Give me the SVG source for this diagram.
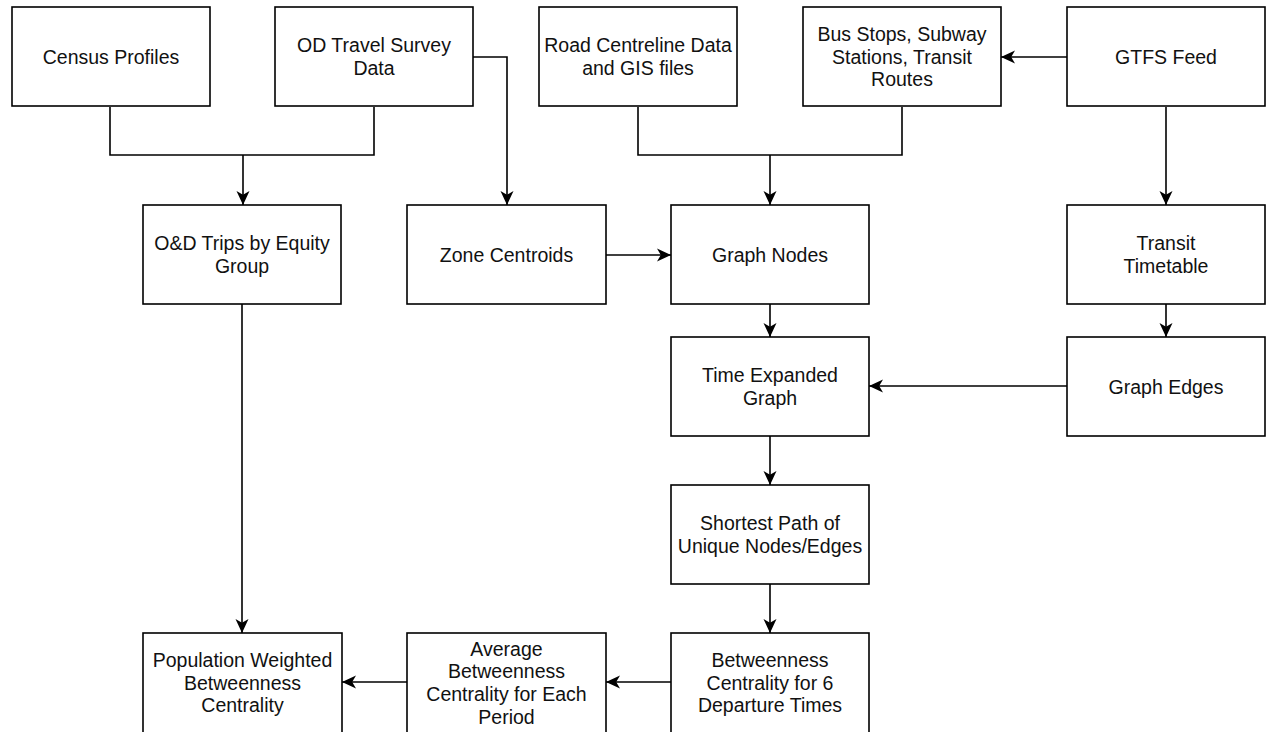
<svg xmlns="http://www.w3.org/2000/svg" width="1269" height="732" viewBox="0 0 1269 732">
<style>
.box{fill:#fff;stroke:#000;stroke-width:1.6}
.lbl{font-family:"Liberation Sans",Arial,Helvetica,sans-serif;font-size:19.5px;fill:#111;text-anchor:middle;dominant-baseline:central}
.edge{fill:none;stroke:#000;stroke-width:1.6}
</style>
<defs>
<marker id="arr" viewBox="0 0 14 14" refX="14" refY="7" markerWidth="14" markerHeight="14" markerUnits="userSpaceOnUse" orient="auto">
<path d="M0,0.5 L14,7 L0,13.5 L3.8,7 Z" fill="#000"/>
</marker>
</defs>
<rect width="1269" height="732" fill="#fff"/>
<g id="connectors">
<path class="edge" d="M110,107 V155 H374 V107"/>
<path class="edge" d="M243,155 V205" marker-end="url(#arr)"/>
<path class="edge" d="M473,57 H507 V205" marker-end="url(#arr)"/>
<path class="edge" d="M638,107 V155 H902 V107"/>
<path class="edge" d="M770,155 V205" marker-end="url(#arr)"/>
<path class="edge" d="M1067,57 H1001" marker-end="url(#arr)"/>
<path class="edge" d="M1166,107 V205" marker-end="url(#arr)"/>
<path class="edge" d="M606,255 H671" marker-end="url(#arr)"/>
<path class="edge" d="M770,304 V337" marker-end="url(#arr)"/>
<path class="edge" d="M1166,304 V337" marker-end="url(#arr)"/>
<path class="edge" d="M1067,386 H869" marker-end="url(#arr)"/>
<path class="edge" d="M770,436 V485" marker-end="url(#arr)"/>
<path class="edge" d="M770,584 V633" marker-end="url(#arr)"/>
<path class="edge" d="M671,682 H606" marker-end="url(#arr)"/>
<path class="edge" d="M407,682 H342" marker-end="url(#arr)"/>
<path class="edge" d="M242,304 V633" marker-end="url(#arr)"/>
</g>
<g id="census"><rect class="box" x="12" y="7" width="198" height="99"/><text class="lbl" x="111" y="56.5">Census Profiles</text></g>
<g id="od-survey"><rect class="box" x="275" y="7" width="198" height="99"/><text class="lbl" x="374" y="45.2">OD Travel Survey</text><text class="lbl" x="374" y="67.9">Data</text></g>
<g id="road"><rect class="box" x="539" y="7" width="198" height="99"/><text class="lbl" x="638" y="45.2">Road Centreline Data</text><text class="lbl" x="638" y="67.9">and GIS files</text></g>
<g id="bus"><rect class="box" x="803" y="7" width="198" height="99"/><text class="lbl" x="902" y="33.8">Bus Stops, Subway</text><text class="lbl" x="902" y="56.5">Stations, Transit</text><text class="lbl" x="902" y="79.2">Routes</text></g>
<g id="gtfs"><rect class="box" x="1067" y="7" width="198" height="99"/><text class="lbl" x="1166" y="56.5">GTFS Feed</text></g>
<g id="od-trips"><rect class="box" x="143" y="205" width="198" height="99"/><text class="lbl" x="242" y="243.2">O&amp;D Trips by Equity</text><text class="lbl" x="242" y="265.9">Group</text></g>
<g id="zone"><rect class="box" x="407" y="205" width="199" height="99"/><text class="lbl" x="506.5" y="254.5">Zone Centroids</text></g>
<g id="graph-nodes"><rect class="box" x="671" y="205" width="198" height="99"/><text class="lbl" x="770" y="254.5">Graph Nodes</text></g>
<g id="timetable"><rect class="box" x="1067" y="205" width="198" height="99"/><text class="lbl" x="1166" y="243.2">Transit</text><text class="lbl" x="1166" y="265.9">Timetable</text></g>
<g id="time-expanded"><rect class="box" x="671" y="337" width="198" height="99"/><text class="lbl" x="770" y="375.2">Time Expanded</text><text class="lbl" x="770" y="397.9">Graph</text></g>
<g id="graph-edges"><rect class="box" x="1067" y="337" width="198" height="99"/><text class="lbl" x="1166" y="386.5">Graph Edges</text></g>
<g id="shortest"><rect class="box" x="671" y="485" width="198" height="99"/><text class="lbl" x="770" y="523.2">Shortest Path of</text><text class="lbl" x="770" y="545.9">Unique Nodes/Edges</text></g>
<g id="population"><rect class="box" x="143" y="633" width="199" height="101"/><text class="lbl" x="242.5" y="659.8">Population Weighted</text><text class="lbl" x="242.5" y="682.5">Betweenness</text><text class="lbl" x="242.5" y="705.2">Centrality</text></g>
<g id="average"><rect class="box" x="407" y="633" width="199" height="101"/><text class="lbl" x="506.5" y="648.5">Average</text><text class="lbl" x="506.5" y="671.2">Betweenness</text><text class="lbl" x="506.5" y="693.8">Centrality for Each</text><text class="lbl" x="506.5" y="716.5">Period</text></g>
<g id="betweenness"><rect class="box" x="671" y="633" width="198" height="101"/><text class="lbl" x="770" y="659.8">Betweenness</text><text class="lbl" x="770" y="682.5">Centrality for 6</text><text class="lbl" x="770" y="705.2">Departure Times</text></g>
</svg>
